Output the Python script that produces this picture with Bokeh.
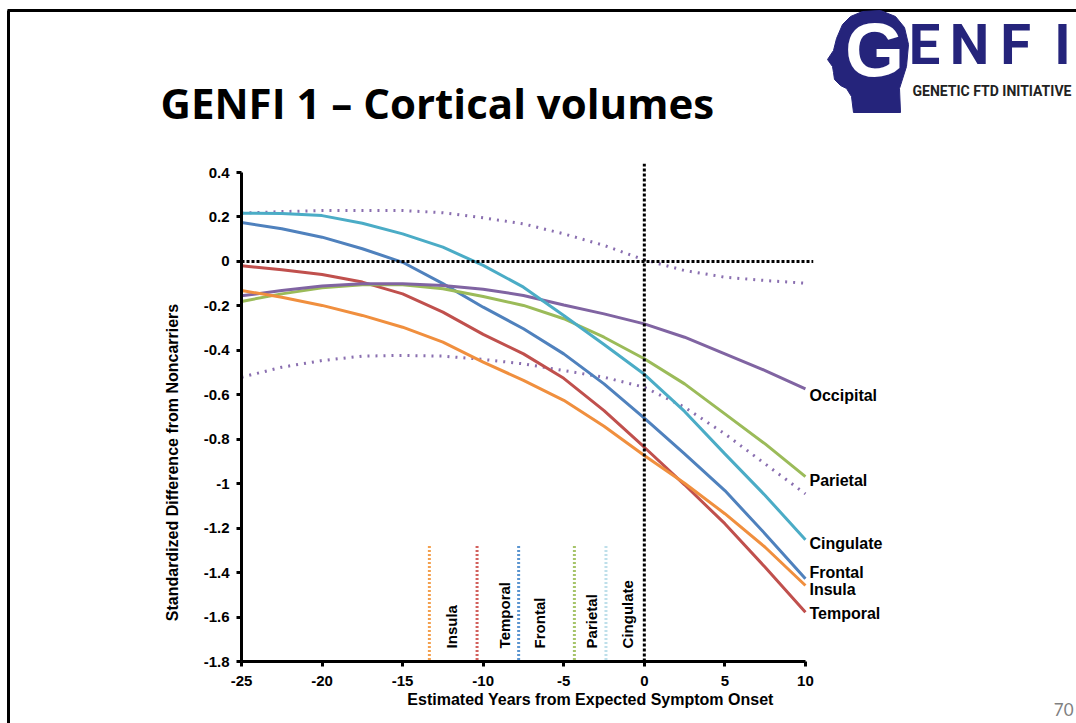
import math
from bokeh.plotting import figure
from bokeh.models import Range1d, FixedTicker, Span
from bokeh.core.properties import value
from bokeh.embed import file_html
from bokeh.resources import INLINE

# ---------------- data ----------------
years = [-25, -22.5, -20, -17.5, -15, -12.5, -10, -7.5, -5, -2.5, 0, 2.5, 5, 7.5, 10]

frontal = [0.175, 0.147, 0.109, 0.057, -0.004, -0.100, -0.206, -0.303, -0.416, -0.551, -0.705, -0.866, -1.031, -1.226, -1.428]
temporal = [-0.020, -0.038, -0.059, -0.093, -0.146, -0.228, -0.328, -0.416, -0.526, -0.671, -0.836, -1.005, -1.180, -1.376, -1.578]
parietal = [-0.180, -0.146, -0.119, -0.105, -0.105, -0.123, -0.158, -0.198, -0.258, -0.341, -0.438, -0.551, -0.686, -0.821, -0.968]
occipital = [-0.155, -0.131, -0.111, -0.100, -0.100, -0.108, -0.125, -0.153, -0.196, -0.236, -0.281, -0.341, -0.416, -0.491, -0.573]
cingulate = [0.217, 0.216, 0.206, 0.172, 0.124, 0.064, -0.018, -0.116, -0.243, -0.374, -0.508, -0.675, -0.866, -1.053, -1.252]
insula = [-0.131, -0.161, -0.198, -0.243, -0.296, -0.363, -0.453, -0.535, -0.625, -0.742, -0.873, -0.998, -1.135, -1.286, -1.458]
occ_upper = [0.217, 0.224, 0.229, 0.229, 0.229, 0.219, 0.196, 0.169, 0.124, 0.072, 0.007, -0.041, -0.071, -0.086, -0.098]
occ_lower = [-0.521, -0.476, -0.446, -0.426, -0.423, -0.426, -0.441, -0.461, -0.491, -0.521, -0.566, -0.656, -0.776, -0.911, -1.046]

region_names = ["Frontal", "Temporal", "Parietal", "Occipital", "Cingulate", "Insula"]
region_colors = ["#4F81BD", "#C0504D", "#9BBB59", "#8064A2", "#4BACC6", "#F08F3E"]

# estimated onset of abnormality per region (vertical markers)
onset_names = ["Insula", "Temporal", "Frontal", "Parietal", "Cingulate"]
onset_years = [-13.34, -10.38, -7.80, -4.34, -2.38]
onset_colors = ["#F4A04E", "#D2605C", "#5B95D0", "#A6C46A", "#BEDFEA"]

x_ticks = [-25, -20, -15, -10, -5, 0, 5, 10]
x_tick_labels = ["-25", "-20", "-15", "-10", "-5", "0", "5", "10"]
y_ticks = [0.4, 0.2, 0, -0.2, -0.4, -0.6, -0.8, -1, -1.2, -1.4, -1.6, -1.8]
y_tick_labels = ["0.4", "0.2", "0", "-0.2", "-0.4", "-0.6", "-0.8", "-1", "-1.2", "-1.4", "-1.6", "-1.8"]

x_title = "Estimated Years from Expected Symptom Onset"
y_title = "Standardized Difference from Noncarriers"
slide_title = "GENFI 1 \u2013 Cortical volumes"

# ---------------- layout ----------------
W, H = 1076, 723
ML, MR, MT, MB = 241, 263, 163, 62
X0, X1 = -25, 10.5
FW = W - ML - MR
FH = H - MT - MB
SX = FW / (X1 - X0)
SY = 489 / 2.2
Y0 = -1.8
Y1 = Y0 + FH / SY

# canvas pixel -> data
def dx(px):
    return X0 + (px - ML) / SX

def dy(py):
    return Y0 + (MT + FH - py) / SY

FONT = value("Liberation Sans")

p = figure(width=W, height=H, output_backend="svg", toolbar_location=None,
           x_range=Range1d(X0, X1), y_range=Range1d(Y0, Y1),
           min_border_left=ML, min_border_right=MR, min_border_top=MT, min_border_bottom=MB)
p.grid.visible = False
p.outline_line_color = None
p.background_fill_color = "white"
p.border_fill_color = "white"

for ax in (p.xaxis[0], p.yaxis[0]):
    ax.axis_line_width = 3
    ax.axis_line_color = "black"
    ax.major_tick_line_width = 3
    ax.major_tick_line_color = "black"
    ax.major_tick_out = 5
    ax.major_tick_in = 0
    ax.minor_tick_line_color = None
    ax.major_label_text_font = "Liberation Sans"
    ax.major_label_text_font_style = "bold"
    ax.major_label_text_font_size = "15px"
    ax.major_label_text_color = "black"

p.xaxis.bounds = (-25, 10)
p.xaxis.ticker = FixedTicker(ticks=x_ticks)
p.xaxis.major_label_overrides = dict(zip(x_ticks, x_tick_labels))
p.xaxis.major_label_standoff = 9

p.yaxis.bounds = (-1.8, 0.4)
p.yaxis.ticker = FixedTicker(ticks=y_ticks)
p.yaxis.major_label_overrides = dict(zip(y_ticks, y_tick_labels))
p.yaxis.major_label_standoff = 7

# axis titles (placed as in the slide, off-centre)
p.text(x=[dx(590)], y=[dy(699)], text=[x_title], text_font=FONT, text_font_style="bold",
       text_font_size="16px", text_color="black", text_align="center", text_baseline="middle",
       level="overlay")
p.text(x=[dx(172)], y=[dy(462)], text=[y_title], angle=math.pi / 2, text_font=FONT,
       text_font_style="bold", text_font_size="16px", text_color="black", text_align="center",
       text_baseline="middle", level="overlay")

# occipital confidence band (dotted)
p.line(years, occ_upper, line_color="#8A6FB0", line_width=3, line_dash="2 6")
p.line(years, occ_lower, line_color="#8A6FB0", line_width=3, line_dash="2 6")

series = [frontal, temporal, parietal, occipital, cingulate, insula]
for vals, col in zip(series, region_colors):
    p.line(years, vals, line_color=col, line_width=3)

# reference lines
p.add_layout(Span(location=0, dimension="width", line_color="black", line_width=3, line_dash="3 2"))
p.add_layout(Span(location=0, dimension="height", line_color="black", line_width=3, line_dash="3 2"))

# onset markers
for xv, col in zip(onset_years, onset_colors):
    p.segment(x0=[xv], y0=[-1.28], x1=[xv], y1=[-1.8], line_color=col, line_width=3, line_dash="2 2")

onset_label_x = [-11.98, -8.69, -6.52, -3.29, -1.05]
p.text(x=onset_label_x, y=[-1.741] * len(onset_names), text=onset_names, angle=math.pi / 2,
       text_font=FONT, text_font_style="bold", text_font_size="15px", text_color="black",
       text_align="left", text_baseline="middle", level="overlay")

# end labels
end_label_y = [-1.40, -1.584, -0.986, -0.603, -1.269, -1.476]
p.text(x=[10.25] * 6, y=end_label_y, text=region_names,
       text_font=FONT, text_font_style="bold", text_font_size="16px", text_color="black",
       text_align="left", text_baseline="middle", level="overlay")

# ---------------- slide decorations ----------------
# border
p.line([dx(7), dx(1080)], [dy(10), dy(10)], line_color="black", line_width=3, level="overlay")
p.line([dx(8), dx(8)], [dy(10), dy(730)], line_color="black", line_width=3, level="overlay")

# title
p.text(x=[dx(160)], y=[dy(102)], text=[slide_title],
       text_font=value("Open Sans"), text_font_style="bold", text_font_size="42px", text_color="black",
       text_align="left", text_baseline="middle", level="overlay")

# logo: head silhouette
head_px = [(853, 112), (851, 96), (846, 88), (840, 85), (834, 79), (833, 72), (832, 66),
           (827, 59), (833, 50), (836, 38), (842, 24), (850, 16), (862, 11), (880, 10),
           (895, 16), (904, 27), (908, 44), (906, 66), (899, 88), (900, 112)]
p.patch([dx(a) for a, b in head_px], [dy(b) for a, b in head_px],
        fill_color="#25247B", line_color="#25247B", level="overlay")
p.text(x=[dx(874)], y=[dy(49)], text=["G"], text_font=value("Liberation Sans"),
       text_font_style="bold", text_font_size="76px", text_color="white",
       text_align="center", text_baseline="middle", level="overlay")
p.text(x=[dx(924), dx(969), dx(1015), dx(1062)], y=[dy(44)] * 4, text=["E", "N", "F", "I"],
       text_font=value("Roboto"), text_font_style="bold", text_font_size="56px", text_color="#25247B",
       text_align="center", text_baseline="middle", level="overlay")
p.text(x=[dx(912)], y=[dy(90)], text=["GENETIC FTD INITIATIVE"],
       text_font=value("Roboto"), text_font_style="bold", text_font_size="14px", text_color="#222222",
       text_align="left", text_baseline="middle", level="overlay")

# page number
p.text(x=[dx(1073)], y=[dy(709)], text=["70"], text_font=value("Lato"), text_font_size="17px",
       text_color="#808080", text_align="right", text_baseline="middle", level="overlay")

open("out.html", "w").write(file_html(p, INLINE))
